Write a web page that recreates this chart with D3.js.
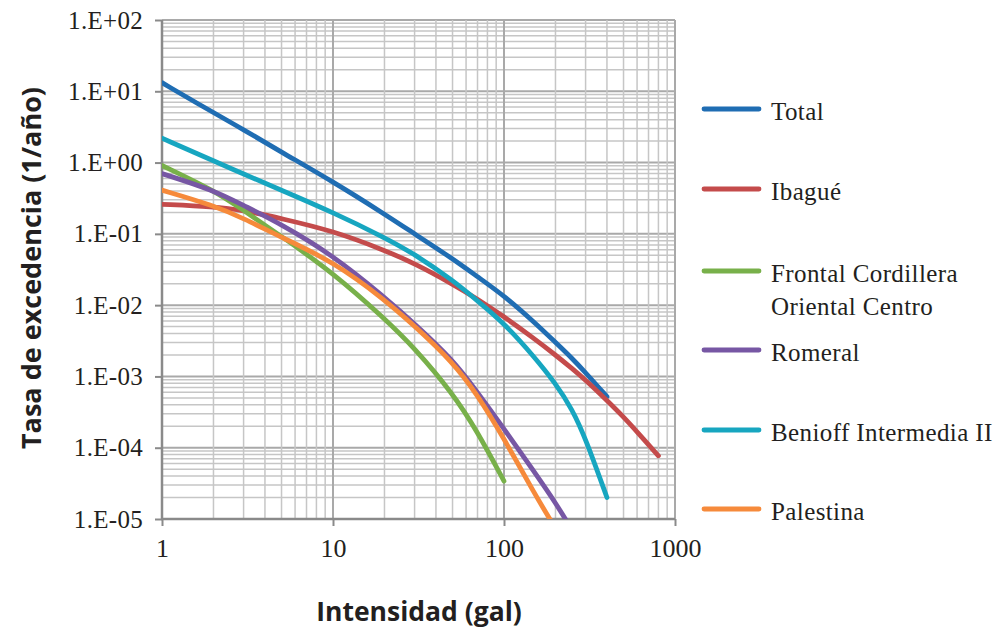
<!DOCTYPE html>
<html>
<head>
<meta charset="utf-8">
<script src="https://cdn.jsdelivr.net/npm/d3@7"></script>
<style>
  body { margin: 0; background: #fff; }
  svg { display: block; }
</style>
</head>
<body>
<svg id="chart_svg" width="997" height="628"></svg>
<script>
// intensity (gal) where the curves were read
var intensity = [1, 2, 3, 5, 10, 20, 30, 50, 70, 100, 150, 200, 250, 300, 400, 500, 600, 800];

// exceedance rates (1/año), one array per source, same order as intensity
var total     = [13.2, 5.0, 2.9, 1.4, 0.54, 0.19, 0.10, 0.045, 0.025, 0.0136, 0.0058, 0.0030, 0.0018, 0.00113, 0.00052];
var ibague    = [0.26, 0.24, 0.214, 0.164, 0.11, 0.059, 0.0385, 0.0198, 0.0122, 0.0069, 0.0034, 0.0020, 0.00129, 0.00089, 0.00046, 0.00027, 0.000167, 0.000077];
var frontal   = [0.91, 0.41, 0.214, 0.092, 0.0284, 0.0065, 0.0025, 0.000585, 0.000168, 0.000034];
var romeral   = [0.70, 0.41, 0.25, 0.136, 0.050, 0.013, 0.0055, 0.00174, 0.00060, 0.000185, 0.000046, 0.000017, 0.000007];
var benioff   = [2.2, 1.06, 0.69, 0.41, 0.20, 0.089, 0.052, 0.0225, 0.0115, 0.0056, 0.0019, 0.00080, 0.00035, 0.000135, 0.00002];
var palestina = [0.41, 0.25, 0.165, 0.089, 0.041, 0.012, 0.0051, 0.0016, 0.00055, 0.000135, 0.000023, 0.0000074];

var seriesNames = ["Total", "Ibagué", "Frontal Cordillera\nOriental Centro", "Romeral", "Benioff Intermedia II", "Palestina"];
var seriesValues = [total, ibague, frontal, romeral, benioff, palestina];
var seriesColors = ["#1f6db3", "#c44b4b", "#78b04a", "#7757a4", "#17a6c0", "#f68a3b"];

var xTickValues = [1, 10, 100, 1000];
var xTickLabels = ["1", "10", "100", "1000"];
var yTickValues = [1e2, 1e1, 1e0, 1e-1, 1e-2, 1e-3, 1e-4, 1e-5];
var yTickLabels = ["1.E+02", "1.E+01", "1.E+00", "1.E-01", "1.E-02", "1.E-03", "1.E-04", "1.E-05"];

var plot = {left: 162, right: 675, top: 20, bottom: 519};
var serif = "'Liberation Serif', 'Times New Roman', serif";

var base = d3.select("#chart_svg");

var x = d3.scaleLog().domain([1, 1000]).range([plot.left, plot.right]);
var y = d3.scaleLog().domain([1e-5, 1e2]).range([plot.bottom, plot.top]);

function isMajor(v) {
    var l = Math.log10(v);
    return Math.abs(l - Math.round(l)) < 1e-9;
}

// grid
var grid = base.append("g").attr("id", "grid");
grid.selectAll("line.hgrid")
    .data(y.ticks())
    .enter().append("line")
    .attr("class", "hgrid")
    .attr("x1", plot.left).attr("x2", plot.right)
    .attr("y1", function(d) { return y(d); })
    .attr("y2", function(d) { return y(d); })
    .attr("stroke", function(d) { return isMajor(d) ? "#a9a9a9" : "#c6c6c6"; })
    .attr("stroke-width", function(d) { return isMajor(d) ? 2 : 1.5; });
grid.selectAll("line.vgrid")
    .data(x.ticks())
    .enter().append("line")
    .attr("class", "vgrid")
    .attr("y1", plot.top).attr("y2", plot.bottom)
    .attr("x1", function(d) { return x(d); })
    .attr("x2", function(d) { return x(d); })
    .attr("stroke", function(d) { return isMajor(d) ? "#a9a9a9" : "#c6c6c6"; })
    .attr("stroke-width", function(d) { return isMajor(d) ? 2 : 1.5; });

// axes
var yAxis = d3.axisLeft(y)
    .tickValues(yTickValues)
    .tickSize(7)
    .tickPadding(12)
    .tickFormat(function(d, i) { return yTickLabels[i]; });
var yAxisGroup = base.append("g")
    .attr("transform", "translate(" + plot.left + ",0)")
    .call(yAxis);
yAxisGroup.selectAll(".tick text").attr("font-size", "25px").attr("letter-spacing", "0.3px");

var xAxis = d3.axisBottom(x)
    .tickValues(xTickValues)
    .tickSize(7)
    .tickPadding(13)
    .tickFormat(function(d, i) { return xTickLabels[i]; });
var xAxisGroup = base.append("g")
    .attr("transform", "translate(0," + plot.bottom + ")")
    .call(xAxis);
xAxisGroup.selectAll(".tick text").attr("font-size", "26px");

[yAxisGroup, xAxisGroup].forEach(function(g) {
    g.select(".domain").remove();
    g.selectAll(".tick line").attr("stroke", "#8a8a8a").attr("stroke-width", 2);
    g.selectAll(".tick text")
        .attr("font-family", serif)
        .attr("fill", "#231f20");
});

base.append("line")
    .attr("x1", plot.left).attr("x2", plot.left)
    .attr("y1", plot.top).attr("y2", plot.bottom + 1)
    .attr("stroke", "#8a8a8a").attr("stroke-width", 2.5);
base.append("line")
    .attr("x1", plot.left - 1).attr("x2", plot.right)
    .attr("y1", plot.bottom).attr("y2", plot.bottom)
    .attr("stroke", "#8a8a8a").attr("stroke-width", 2.5);

// curves
base.append("clipPath").attr("id", "plot-clip")
    .append("rect")
    .attr("x", plot.left).attr("y", plot.top)
    .attr("width", plot.right - plot.left)
    .attr("height", plot.bottom - plot.top);

var line = d3.line()
    .x(function(d) { return x(d[0]); })
    .y(function(d) { return y(d[1]); })
    .curve(d3.curveBasis);

var curveGroup = base.append("g").attr("clip-path", "url(#plot-clip)");
seriesValues.forEach(function(vals, i) {
    var pts = vals.map(function(v, j) { return [intensity[j], v]; });
    curveGroup.append("path")
        .attr("d", line(pts))
        .attr("fill", "none")
        .attr("stroke", seriesColors[i])
        .attr("stroke-width", 4.8)
        .attr("stroke-linecap", "round")
        .attr("stroke-linejoin", "round");
});

// legend
var legendY = [109, 189, 271, 350, 430, 509];
var legend = base.append("g").attr("id", "legend");
seriesNames.forEach(function(name, i) {
    legend.append("line")
        .attr("x1", 704).attr("x2", 759)
        .attr("y1", legendY[i]).attr("y2", legendY[i])
        .attr("stroke", seriesColors[i])
        .attr("stroke-width", 4.8)
        .attr("stroke-linecap", "round");
    var t = legend.append("text")
        .attr("x", 771)
        .attr("y", legendY[i] + 11)
        .attr("font-family", serif)
        .attr("font-size", "25px")
        .attr("letter-spacing", "0.4px")
        .attr("fill", "#231f20");
    name.split("\n").forEach(function(part, k) {
        t.append("tspan").attr("x", 771).attr("dy", k === 0 ? 0 : 33).text(part);
    });
});

// axis titles
base.append("text")
    .text("Tasa de excedencia (1/año)")
    .attr("transform", "translate(41,268) rotate(-90)")
    .attr("text-anchor", "middle")
    .attr("font-family", "'Open Sans', sans-serif")
    .attr("font-weight", "bold")
    .attr("font-size", "27px")
    .attr("fill", "#231f20");
base.append("text")
    .text("Intensidad (gal)")
    .attr("x", 419)
    .attr("y", 621)
    .attr("text-anchor", "middle")
    .attr("font-family", "'Open Sans', sans-serif")
    .attr("font-weight", "bold")
    .attr("font-size", "26.5px")
    .attr("fill", "#231f20");
</script>
</body>
</html>
